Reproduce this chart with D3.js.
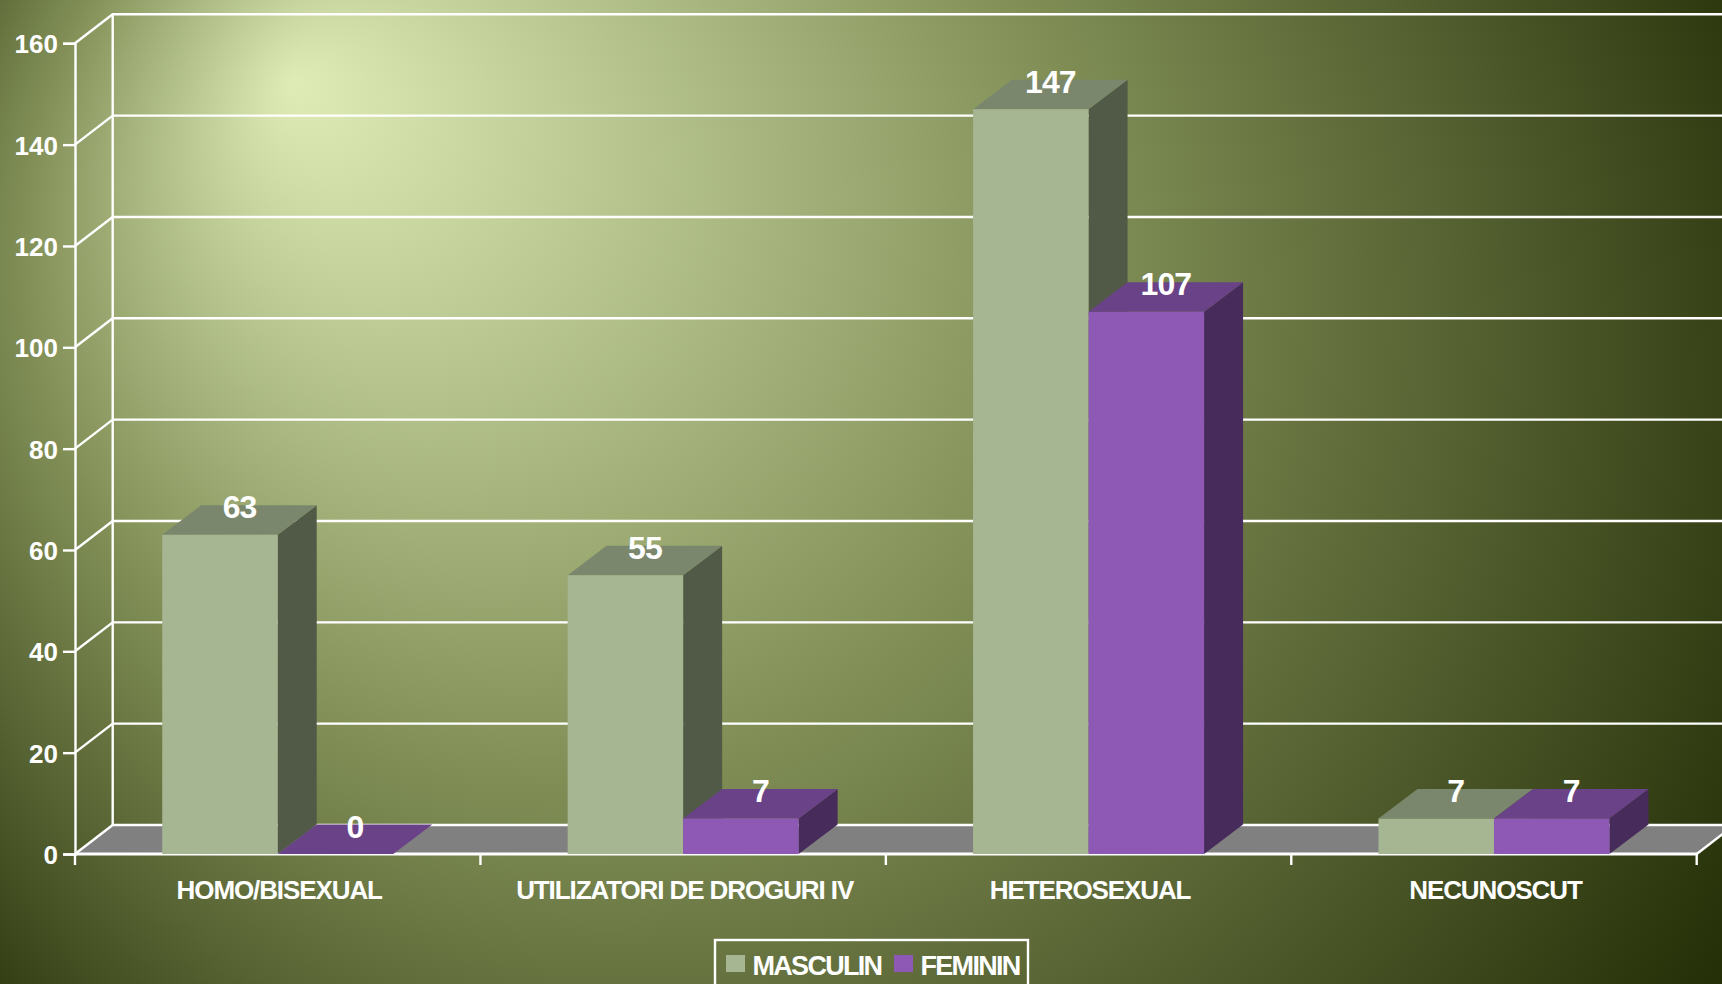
<!DOCTYPE html>
<html lang="en">
<head>
<meta charset="UTF-8">
<script src="https://d3js.org/d3.v7.min.js"></script>
<style>
    html, body { margin: 0; padding: 0; background: #222c05; overflow: hidden; }
    svg { display: block; }
    text { font-family: "Liberation Sans", Arial, sans-serif; font-weight: bold; fill: #fff; }
</style>
</head>
<body>
<svg width="1722" height="984"></svg>
<script>
    var categories = ["HOMO/BISEXUAL", "UTILIZATORI DE DROGURI IV", "HETEROSEXUAL", "NECUNOSCUT"];
    var masculin = [63, 55, 147, 7];
    var feminin = [0, 7, 107, 7];
    var yTicks = [0, 20, 40, 60, 80, 100, 120, 140, 160];
    var seriesNames = ["MASCULIN", "FEMININ"];

    var colors = {
        MASCULIN: {front: "#a6b592", top: "#7a876c", side: "#515a46"},
        FEMININ: {front: "#8e59b5", top: "#6a4288", side: "#472b5b"}
    };

    var svg = d3.select("svg"),
        left = 75, right = 1696.7, bottom = 854, top160 = 43.3,
        depthX = 37.7, depthY = 29,   // offset of the back wall
        barDX = 39, barDY = 29.5,
        lineW = 2.4;

    // background: radial gradient with the focus pulled to the top left
    var grad = svg.append("defs").append("radialGradient")
        .attr("id", "bg").attr("gradientUnits", "userSpaceOnUse")
        .attr("cx", 825).attr("cy", 420).attr("r", 1080)
        .attr("fx", 291).attr("fy", 82);
    grad.append("stop").attr("offset", 0).attr("stop-color", "#dfecb6");
    grad.append("stop").attr("offset", 0.5).attr("stop-color", "#7f8d55");
    grad.append("stop").attr("offset", 1).attr("stop-color", "#222c05");
    svg.append("rect").attr("width", 1722).attr("height", 984).attr("fill", "url(#bg)");

    var x = d3.scaleBand().domain(categories).range([left, right]);
    var y = d3.scaleLinear().domain([0, 160]).range([bottom, top160]);
    var inner = d3.scaleBand().domain(seriesNames).range([0, 231]);
    var groupOffset = (x.bandwidth() - 231) / 2;

    // floor
    svg.append("path")
        .attr("d", d3.line()([[left, bottom], [left + depthX, bottom - depthY],
            [right + depthX, bottom - depthY], [right, bottom]]))
        .attr("fill", "#808080");

    // back wall gridlines and the diagonals to the front axis
    var wall = svg.append("g").attr("stroke", "#fff").attr("stroke-width", lineW).attr("fill", "none");
    yTicks.forEach(function(t) {
        wall.append("path").attr("d", d3.line()([[left, y(t)], [left + depthX, y(t) - depthY],
            [right + depthX, y(t) - depthY]]));
    });
    wall.append("line").attr("x1", left + depthX).attr("x2", left + depthX)
        .attr("y1", y(160) - depthY).attr("y2", y(0) - depthY);
    wall.append("line").attr("x1", right).attr("x2", right + depthX)
        .attr("y1", bottom).attr("y2", bottom - depthY);

    // y axis
    var yAxis = svg.append("g").attr("transform", "translate(" + left + ",0)")
        .call(d3.axisLeft(y).tickValues(yTicks).tickSize(12).tickPadding(5));
    yAxis.selectAll("line").attr("stroke", "#fff").attr("stroke-width", lineW);
    yAxis.select(".domain").attr("stroke", "#fff").attr("stroke-width", lineW);
    yAxis.selectAll("text").style("font-size", "26px").style("font-family", null).attr("dy", "0.36em");

    // x axis: labels from the band scale, ticks on the band edges
    var xAxis = svg.append("g").attr("transform", "translate(1.5," + bottom + ")")
        .call(d3.axisBottom(x).tickSize(0).tickPadding(27));
    xAxis.select(".domain").remove();
    xAxis.selectAll("text").style("font-size", "26px").style("letter-spacing", "-1.1px");
    var edges = categories.map(function(c) { return x(c); }).concat([right]);
    svg.append("g").selectAll("line").data(edges).join("line")
        .attr("x1", function(d) { return d; }).attr("x2", function(d) { return d; })
        .attr("y1", bottom - 1).attr("y2", bottom + 11)
        .attr("stroke", "#fff").attr("stroke-width", lineW);
    svg.append("line").attr("x1", left - 1).attr("x2", right + 1).attr("y1", bottom).attr("y2", bottom)
        .attr("stroke", "#fff").attr("stroke-width", 3);

    // 3D bars
    function drawBars(name, values) {
        var g = svg.append("g");
        var c = colors[name];
        categories.forEach(function(cat, i) {
            var x0 = x(cat) + groupOffset + inner(name),
                x1 = x0 + inner.bandwidth(),
                yv = y(values[i]);
            g.append("path").attr("fill", c.side).attr("d", d3.line()([[x1, yv], [x1 + barDX, yv - barDY],
                [x1 + barDX, bottom - barDY], [x1, bottom]]));
            g.append("path").attr("fill", c.top).attr("d", d3.line()([[x0, yv], [x0 + barDX, yv - barDY],
                [x1 + barDX, yv - barDY], [x1, yv]]));
            g.append("rect").attr("fill", c.front).attr("x", x0).attr("y", yv)
                .attr("width", x1 - x0).attr("height", bottom - yv);
        });
    }
    drawBars("MASCULIN", masculin);
    drawBars("FEMININ", feminin);

    // value labels go over everything
    function drawLabels(name, values) {
        categories.forEach(function(cat, i) {
            svg.append("text")
                .attr("x", x(cat) + groupOffset + inner(name) + inner.bandwidth() / 2 + barDX / 2)
                .attr("y", y(values[i]) - 16.5)
                .attr("text-anchor", "middle")
                .style("font-size", "32px").style("letter-spacing", "-1px")
                .text(values[i]);
        });
    }
    drawLabels("MASCULIN", masculin);
    drawLabels("FEMININ", feminin);

    // legend, its box runs off the bottom of the page
    var legend = svg.append("g");
    legend.append("rect").attr("x", 715).attr("y", 940).attr("width", 313).attr("height", 60)
        .attr("fill", "none").attr("stroke", "#fff").attr("stroke-width", lineW);
    var legendX = {MASCULIN: 726, FEMININ: 894};
    seriesNames.forEach(function(name) {
        legend.append("rect").attr("x", legendX[name]).attr("y", 955).attr("width", 19).attr("height", 17)
            .attr("fill", colors[name].front);
        legend.append("text").attr("x", legendX[name] + 26.5).attr("y", 975)
            .style("font-size", "27px").style("letter-spacing", "-1.7px").text(name);
    });
</script>
</body>
</html>
